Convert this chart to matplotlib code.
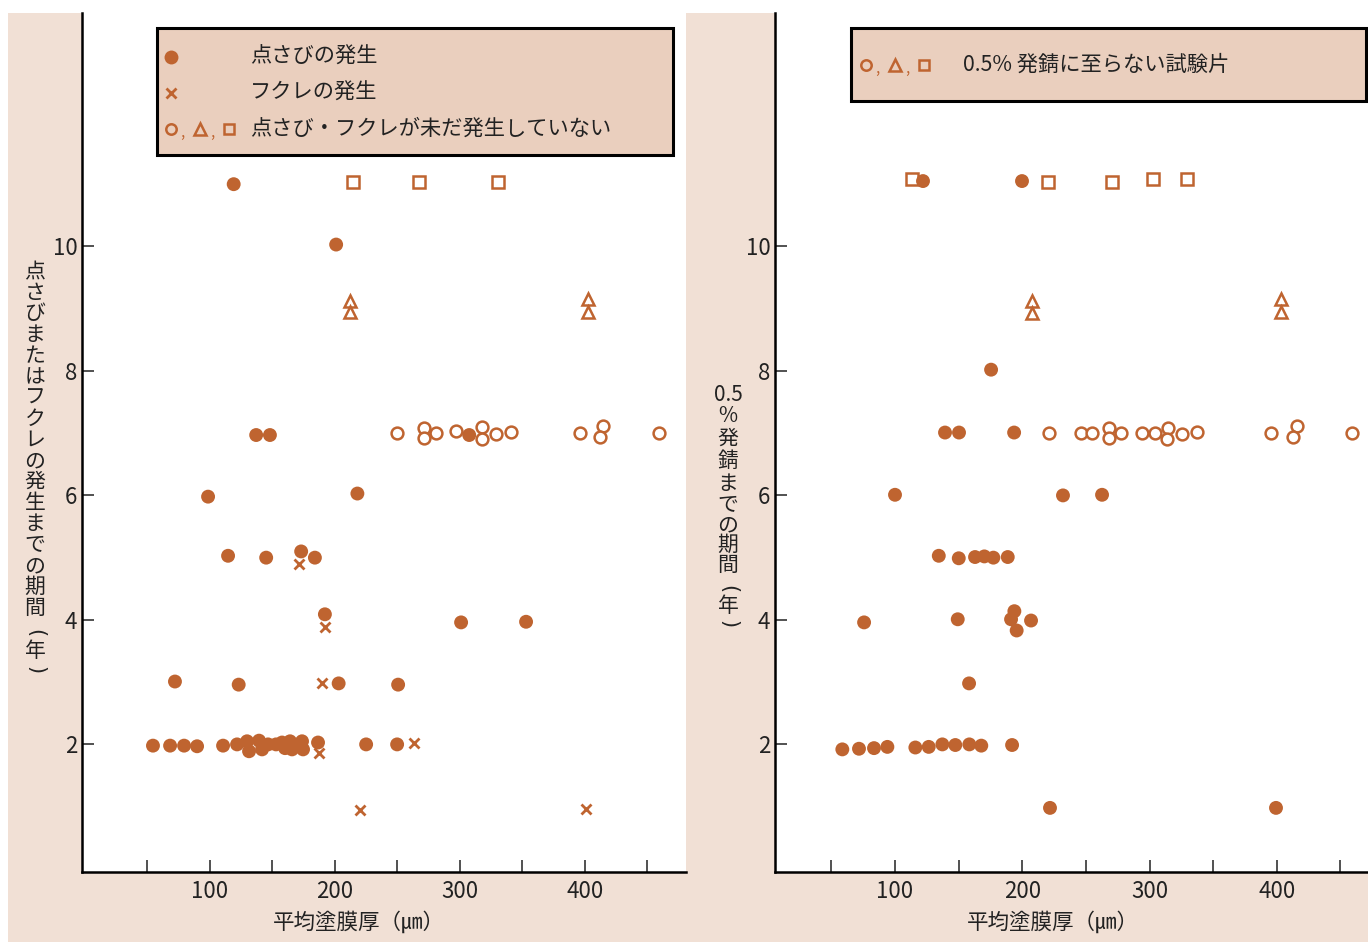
import numpy as np
import matplotlib
matplotlib.use('Agg')
import matplotlib.pyplot as plt
from matplotlib.patches import Rectangle
from matplotlib.lines import Line2D

plt.rcParams['font.family'] = ['Noto Sans CJK JP', 'DejaVu Sans']

# left panel: 点さび / フクレ
L_rust_x = [119, 201, 137, 148, 98.5, 114.5, 145, 173, 184, 218, 192, 72, 123, 203, 250.6,
            301, 353, 307.5,
            54.4, 68.1, 79.3, 89.7, 110.5, 121.7, 129.7, 131.3, 139.3, 141.7, 146.5, 152.9,
            157.7, 160.1, 164.1, 165.7, 169.7, 173.7, 174.5, 186.5, 225, 249.8]
L_rust_y = [11.0, 10.03, 6.97, 6.97, 5.98, 5.03, 5.0, 5.1, 5.0, 6.03, 4.09, 3.01, 2.96, 2.98, 2.96,
            3.96, 3.97, 6.97,
            1.98, 1.98, 1.98, 1.97, 1.98, 2.0, 2.05, 1.89, 2.06, 1.92, 2.0, 2.0,
            2.03, 1.94, 2.05, 1.92, 1.98, 2.05, 1.92, 2.03, 2.0, 2.0]
L_blis_x = [171.3, 192, 189.7, 187.3, 263.4, 220.2, 401.1]
L_blis_y = [4.9, 3.89, 2.98, 1.86, 2.02, 0.94, 0.97]
L_circ_x = [250, 271.7, 271.7, 281, 297, 317.9, 317.6, 329.1, 340.8, 395.8, 414.5, 411.8, 459.0]
L_circ_y = [7.0, 7.09, 6.92, 7.0, 7.04, 7.1, 6.9, 6.99, 7.02, 7.01, 7.12, 6.94, 7.01]
L_tri_x = [212.2, 212.2, 402.7, 402.7]
L_tri_y = [9.13, 8.95, 9.16, 8.95]
L_sq_x = [214.6, 267.4, 330.7]
L_sq_y = [11.04, 11.04, 11.04]

# right panel: 0.5% 発錆
R_rust_x = [122, 199.8, 175.5, 139.3, 150.3, 193.6, 100, 232, 262.7,
            134.4, 150.1, 162.9, 170.2, 177.3, 188.6,
            149.3, 193.8, 191.2, 206.9, 195.6, 75.7, 158.2,
            58.6, 71.7, 83.5, 94, 116, 126.5, 137.2, 147.4, 158.4, 167.8, 192,
            221.8, 399.4]
R_rust_y = [11.05, 11.05, 8.02, 7.01, 7.01, 7.01, 6.01, 6.0, 6.01,
            5.03, 4.99, 5.01, 5.02, 5.0, 5.01,
            4.01, 4.14, 4.01, 3.99, 3.83, 3.96, 2.98,
            1.92, 1.93, 1.94, 1.96, 1.95, 1.96, 2.0, 1.99, 2.0, 1.98, 1.99,
            0.98, 0.98]
R_circ_x = [221.3, 245.9, 254.6, 268.4, 268.4, 277.6, 293.9, 304.3, 314.8, 314.0, 325.8, 337.1,
            395.2, 416.1, 413.0, 459.3]
R_circ_y = [7.0, 7.01, 7.01, 7.09, 6.92, 7.01, 7.0, 7.0, 7.09, 6.9, 6.99, 7.02,
            7.01, 7.12, 6.94, 7.01]
R_tri_x = [207.7, 207.7, 403.3, 403.3]
R_tri_y = [9.13, 8.93, 9.15, 8.95]
R_sq_x = [113.4, 220.3, 270.5, 302.7, 329.5]
R_sq_y = [11.09, 11.04, 11.04, 11.09, 11.09]

xticks = [50, 100, 150, 200, 250, 300, 350, 400, 450]
xticklabels = ['', '100', '', '200', '', '300', '', '400', '']
yticks = [2, 4, 6, 8, 10]

C = '#BF6430'
BG = '#F1E0D5'
LEG = '#EACFBE'
TXT = '#222222'
W, H = 1368, 942

fig = plt.figure(figsize=(W / 100, H / 100), dpi=100, facecolor='white')
fig.add_artist(Rectangle((8 / W, 0), 1 - 8 / W, 1 - 13 / H, transform=fig.transFigure,
                         facecolor=BG, edgecolor='none', zorder=-10))

ax1 = fig.add_axes([81.5 / W, 1 - 872 / H, (686 - 81.5) / W, (872 - 13) / H])
ax2 = fig.add_axes([774.5 / W, 1 - 872 / H, (W - 774.5) / W, (872 - 13) / H])


def style(ax, xlim, labx):
    ax.set_facecolor('white')
    ax.set_xlim(*xlim)
    ax.set_ylim(-0.05, 13.75)
    for s in ['top', 'right']:
        ax.spines[s].set_visible(False)
    for s in ['left', 'bottom']:
        ax.spines[s].set_linewidth(1.8)
    ax.set_xticks(xticks)
    ax.set_xticklabels(xticklabels)
    ax.set_yticks(yticks)
    ax.tick_params(axis='both', direction='in', length=8.5, width=1.1, labelsize=16,
                   colors=TXT)
    ax.tick_params(axis='x', pad=6)
    ax.tick_params(axis='y', pad=3)
    ax.set_xlabel('平均塗膜厚（㎛）', fontsize=15.5, color=TXT)
    ax.xaxis.set_label_coords(labx, -39 / 859, transform=ax.transAxes)


def draw(ax, rx, ry, cx, cy, tx, ty, sx, sy):
    ax.scatter(rx, ry, s=100, color=C, edgecolors='none', zorder=3)
    ax.plot(cx, cy, 'o', ms=8.5, mfc='white', mec=C, mew=1.8, ls='none', zorder=4)
    ax.plot(tx, ty, '^', ms=9, mfc='white', mec=C, mew=1.8, ls='none', zorder=4)
    ax.plot(sx, sy, 's', ms=8, mfc='white', mec=C, mew=1.8, ls='none', zorder=2)


style(ax1, (-2.8, 481), 0.459)
style(ax2, (5.3, 471.7), 0.469)
draw(ax1, L_rust_x, L_rust_y, L_circ_x, L_circ_y, L_tri_x, L_tri_y, L_sq_x, L_sq_y)
ax1.plot(L_blis_x, L_blis_y, 'x', ms=7, mec=C, mew=2, ls='none', zorder=4)
draw(ax2, R_rust_x, R_rust_y, R_circ_x, R_circ_y, R_tri_x, R_tri_y, R_sq_x, R_sq_y)


def fx(px):
    return px / W


def fy(py):
    return 1 - py / H


def mark(px, py, m, **kw):
    fig.add_artist(Line2D([fx(px)], [fy(py)], marker=m, ls='none', color=C,
                          transform=fig.transFigure, zorder=10, **kw))


def open3(x0, py):
    mark(x0, py, 'o', ms=7.5, mfc='none', mec=C, mew=1.8)
    fig.text(fx(x0 + 11), fy(py + 3), ',', fontsize=11, color=C, ha='center', va='center', zorder=10)
    mark(x0 + 29, py, '^', ms=8.5, mfc='none', mec=C, mew=1.8)
    fig.text(fx(x0 + 41), fy(py + 3), ',', fontsize=11, color=C, ha='center', va='center', zorder=10)
    mark(x0 + 58, py, 's', ms=7.5, mfc='none', mec=C, mew=1.8)


# legend boxes
fig.add_artist(Rectangle((fx(157), fy(155)), fx(673 - 157), (155 - 28) / H, transform=fig.transFigure,
                         facecolor=LEG, edgecolor='black', linewidth=2.2, zorder=9))
mark(171, 57, 'o', ms=10, mec='none')
mark(171, 93, 'x', ms=7, mew=2)
open3(171, 129)
legend_txt = ['点さびの発生', 'フクレの発生', '点さび・フクレが未だ発生していない']
for t, py in zip(legend_txt, [57, 93, 129]):
    fig.text(fx(250), fy(py), t, fontsize=15.3, va='center', ha='left', color=TXT, zorder=10)

fig.add_artist(Rectangle((fx(851), fy(101)), fx(1366 - 851), (101 - 28) / H, transform=fig.transFigure,
                         facecolor=LEG, edgecolor='black', linewidth=2.2, zorder=9))
open3(866, 65)
fig.text(fx(963), fy(65), '0.5% 発錆に至らない試験片', fontsize=15.3, va='center', ha='left',
         color=TXT, zorder=10)


def vchar(px, py, ch):
    if ch in '()':
        fig.text(fx(px), fy(py), ch, fontsize=15, ha='center', va='center', color=TXT,
                 rotation=270, family='DejaVu Sans')
    else:
        fig.text(fx(px), fy(py), ch, fontsize=15, ha='center', va='center', color=TXT)


# vertical y labels (stacked characters)
ylab1 = list('点さびまたはフクレの発生までの期間(年)')
ypos1 = [272 + 21.0 * i for i in range(17)] + [633, 651, 670]
for ch, py in zip(ylab1, ypos1):
    vchar(35, py, ch)

ylab2 = ['0.5', '%', '発', '錆', 'ま', 'で', 'の', '期', '間', '(', '年', ')']
ypos2 = [395, 416, 439, 461, 484, 505, 525, 545, 565, 589, 606, 624]
for ch, py in zip(ylab2, ypos2):
    vchar(728, py, ch)

fig.savefig('out.png', dpi=100, facecolor='white')
